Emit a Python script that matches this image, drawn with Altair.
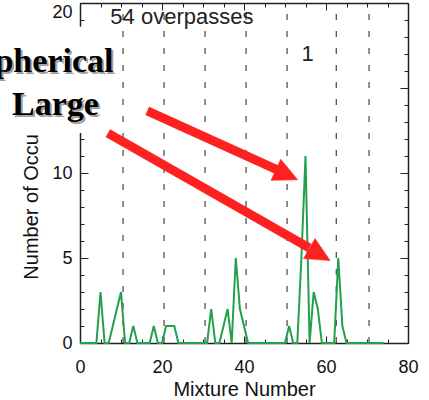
import math
import altair as alt
import pandas as pd

# ---- data ----
mixture = list(range(75))
occurrences = [0, 0, 0, 0, 0, 3, 0, 0, 1, 2,
               3, 0, 0, 1, 0, 0, 0, 0, 1, 0,
               0, 1, 1, 1, 0, 0, 0, 0, 0, 0,
               0, 0, 2, 0, 0, 1, 2, 0, 5, 2,
               1, 0, 0, 0, 0, 0, 0, 0, 0, 0,
               0, 1, 0, 0, 5, 11, 0, 3, 2, 0,
               0, 0, 0, 5, 1, 0, 0, 0, 0, 0,
               0, 0, 0, 0, 0]
dividers = [10.5, 20.5, 30.5, 40.5, 50.5, 62.5, 70.5]

note_text = ["54 overpasses", "1"]
note_x = [7.4, 55.5]
note_y = [19.15, 17.0]
note_align = ["left", "center"]

arrow_tail_x = [16.4, 6.8]
arrow_tail_y = [13.65, 12.35]
arrow_base_x = [48.0, 55.9]
arrow_base_y = [10.2, 5.6]
arrow_tip_x = [53.1, 61.0]
arrow_tip_y = [9.6, 4.85]

x_major = [0, 20, 40, 60, 80]
x_minor = list(range(0, 81, 5))
y_major = [0, 5, 10, 15, 20]
y_minor = list(range(0, 21))

# ---- layout ----
W, H = 328, 340
X_MAX, Y_MAX = 80, 20
AX = "#222222"
TXT = "#111111"
SANS = "Liberation Sans"
SERIF = "Liberation Serif"
GREEN = "#22a04b"
RED = "#ff2020"

line_df = pd.DataFrame({"mixture": mixture, "count": occurrences})
div_df = pd.DataFrame({"x": dividers})
note_df = pd.DataFrame({"text": note_text, "x": note_x, "y": note_y, "align": note_align})
one_row = pd.DataFrame({"k": [0]})

px_x = W / X_MAX
px_y = H / Y_MAX
angles = [math.degrees(math.atan2((ty0 - ty1) * px_y, (tx1 - tx0) * px_x))
          for tx0, ty0, tx1, ty1 in zip(arrow_tail_x, arrow_tail_y, arrow_tip_x, arrow_tip_y)]
arrow_df = pd.DataFrame({
    "x0": arrow_tail_x, "y0": arrow_tail_y,
    "x1": arrow_base_x, "y1": arrow_base_y,
    "tx": arrow_tip_x, "ty": arrow_tip_y,
    "angle": angles,
})

xs = alt.Scale(domain=[0, X_MAX], nice=False, zero=False)
ys = alt.Scale(domain=[0, Y_MAX], nice=False, zero=False)


def ax_layer(x_axis=None, y_axis=None):
    return alt.Chart(line_df).mark_line(opacity=0).encode(
        x=alt.X("mixture:Q", scale=xs, axis=x_axis),
        y=alt.Y("count:Q", scale=ys, axis=y_axis),
    )


def tick_axis(orient, offset, values, size, domain=False):
    return alt.Axis(orient=orient, offset=offset, values=values, tickSize=size,
                    ticks=True, labels=False, domain=domain, domainColor=AX,
                    domainWidth=1.5, tickColor=AX, tickWidth=1, grid=False, title=None)


x_lab = alt.Axis(orient="bottom", values=x_major, ticks=False, domain=True,
                 domainColor=AX, domainWidth=1.5, labelFont=SANS, labelFontSize=18,
                 labelColor=TXT, labelPadding=15, labelFlush=False, labelOverlap=False,
                 title="Mixture Number", titleFont=SANS, titleFontSize=20,
                 titleFontWeight="normal", titleColor=TXT, titlePadding=3, grid=False)
y_lab = alt.Axis(orient="left", values=y_major, ticks=False, domain=True,
                 domainColor=AX, domainWidth=1.5, labelFont=SANS, labelFontSize=18,
                 labelColor=TXT, labelPadding=8, labelFlush=False, labelOverlap=False,
                 labelBaseline=alt.condition("datum.value == 20", alt.value("top"),
                                             alt.value("middle")),
                 title="Number of Occurrences", titleFont=SANS, titleFontSize=20,
                 titleFontWeight="normal", titleColor=TXT, titlePadding=10, grid=False)

axes_layers = [
    ax_layer(x_axis=x_lab),
    ax_layer(y_axis=y_lab),
    ax_layer(x_axis=tick_axis("top", -H, x_major, 7)),
    ax_layer(x_axis=tick_axis("top", -H, x_minor, 4)),
    ax_layer(x_axis=tick_axis("bottom", -H, x_major, 7, domain=True)),
    ax_layer(x_axis=tick_axis("bottom", -H, x_minor, 4)),
    ax_layer(y_axis=tick_axis("right", -W, y_major, 8)),
    ax_layer(y_axis=tick_axis("right", -W, y_minor, 4)),
    ax_layer(y_axis=tick_axis("left", -W, y_major, 8, domain=True)),
    ax_layer(y_axis=tick_axis("left", -W, y_minor, 4)),
]

dashes = alt.Chart(div_df).mark_rule(color="#333333", strokeWidth=1.1, strokeDash=[6, 11]).encode(
    x=alt.X("x:Q", scale=xs, axis=None),
    y=alt.YDatum(0, scale=ys, axis=None),
    y2=alt.Y2Datum(Y_MAX),
)

line = alt.Chart(line_df).mark_line(color=GREEN, strokeWidth=2).encode(
    x=alt.X("mixture:Q", scale=xs, axis=None),
    y=alt.Y("count:Q", scale=ys, axis=None),
)

box = alt.Chart(one_row).mark_rect(color="white").encode(
    x=alt.XDatum(-19.5, scale=xs, axis=None), x2=alt.X2Datum(9.9),
    y=alt.YDatum(12.35, scale=ys, axis=None), y2=alt.Y2Datum(18.6),
)


def note_layer(align):
    return alt.Chart(note_df).transform_filter(alt.datum.align == align).mark_text(
        font=SANS, fontSize=22, color="#222222", align=align, baseline="middle").encode(
        x=alt.X("x:Q", scale=xs, axis=None),
        y=alt.Y("y:Q", scale=ys, axis=None),
        text="text:N",
    )


def big_text(txt, x, y, align, color, dx=0, dy=0):
    return alt.Chart(one_row).mark_text(text=txt, font=SERIF, fontWeight="bold", fontSize=34,
                                        color=color, align=align, baseline="alphabetic",
                                        dx=dx, dy=dy).encode(
        x=alt.XDatum(x, scale=xs, axis=None), y=alt.YDatum(y, scale=ys, axis=None))


big = [
    big_text("Spherical", 8.16, 15.94, "right", "#a0a0a0", 2, 2),
    big_text("Large", -5.97, 13.41, "center", "#a0a0a0", 2, 2),
    big_text("Spherical", 8.16, 15.94, "right", "black"),
    big_text("Large", -5.97, 13.41, "center", "black"),
]

shafts = alt.Chart(arrow_df).mark_rule(color=RED, strokeWidth=9, strokeCap="butt").encode(
    x=alt.X("x0:Q", scale=xs, axis=None), y=alt.Y("y0:Q", scale=ys, axis=None),
    x2="x1:Q", y2="y1:Q",
)
heads = alt.Chart(arrow_df).mark_point(shape="M0,0L-1,-0.48L-1,0.48Z", filled=True,
                                       fill=RED, stroke=RED, strokeWidth=0.5,
                                       opacity=1, size=2304).encode(
    x=alt.X("tx:Q", scale=xs, axis=None), y=alt.Y("ty:Q", scale=ys, axis=None),
    angle=alt.Angle("angle:Q", scale=None),
)

chart = alt.layer(
    *axes_layers, dashes, line, box, note_layer("left"), note_layer("center"),
    *big, shafts, heads
).resolve_axis(x="independent", y="independent").properties(
    width=W, height=H,
    autosize=alt.AutoSizeParams(type="none"),
    padding={"left": 80, "top": 3, "right": 21, "bottom": 57},
    background="white",
).configure_view(strokeWidth=0)

chart.save("out.html", embed_options={"renderer": "svg", "actions": False})
